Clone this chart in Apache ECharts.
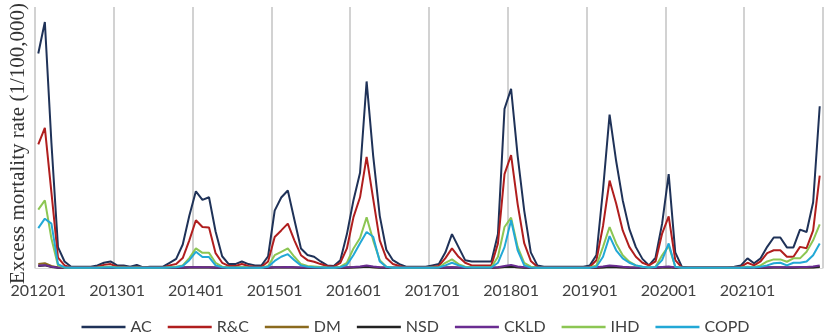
<!DOCTYPE html>
<html>
<head>
<meta charset="utf-8">
<script src="https://cdn.jsdelivr.net/npm/echarts@6/dist/echarts.min.js"></script>
<style>
html,body{margin:0;padding:0;background:#fff;}
#chart{width:831px;height:335px;}
</style>
</head>
<body>
<div id="chart"></div>
<script>
// ---- data ----
var years = ['2012','2013','2014','2015','2016','2017','2018','2019','2020','2021'];
var months = ['01','02','03','04','05','06','07','08','09','10','11','12'];
var categories = [];
years.forEach(function(y){ months.forEach(function(m){ categories.push(y + m); }); });

var seriesNames = ['AC','R&C','DM','NSD','CKLD','IHD','COPD'];

var AC = [
 8.22,9.43,4.8,0.8,0.25,0.05,0.05,0.05,0.05,0.1,0.2,0.25,
 0.1,0.1,0.05,0.12,0.02,0.05,0.05,0.05,0.2,0.35,0.9,2.0,
 2.94,2.61,2.71,1.4,0.45,0.15,0.15,0.25,0.15,0.1,0.1,0.45,
 2.2,2.7,2.97,1.85,0.75,0.5,0.43,0.25,0.1,0.08,0.3,1.3,
 2.6,3.65,7.15,4.3,2.0,0.7,0.3,0.15,0.05,0.05,0.05,0.05,
 0.1,0.15,0.6,1.3,0.8,0.3,0.25,0.25,0.25,0.25,1.3,6.1,
 6.87,4.3,2.2,0.6,0.1,0.05,0.05,0.05,0.05,0.05,0.05,0.05,
 0.1,0.5,3.0,5.88,4.1,2.6,1.5,0.8,0.35,0.1,0.4,1.7,
 3.6,0.6,0.05,0.02,0.02,0.02,0.02,0.02,0.02,0.02,0.05,0.1,
 0.37,0.18,0.37,0.81,1.17,1.17,0.79,0.79,1.47,1.38,2.52,6.2
];
var RC = [
 4.74,5.37,2.9,0.4,0.1,0.02,0.02,0.02,0.02,0.05,0.12,0.15,
 0.05,0.05,0.02,0.05,0.02,0.02,0.02,0.02,0.1,0.15,0.38,1.06,
 1.83,1.57,1.55,0.57,0.2,0.08,0.08,0.15,0.08,0.05,0.05,0.25,
 1.19,1.44,1.7,1.06,0.49,0.3,0.24,0.15,0.08,0.05,0.2,0.75,
 1.95,2.71,4.26,2.65,1.06,0.38,0.15,0.08,0.02,0.02,0.02,0.02,
 0.05,0.08,0.38,0.75,0.43,0.2,0.1,0.1,0.1,0.1,0.94,3.6,
 4.33,2.45,0.95,0.27,0.05,0.02,0.02,0.02,0.02,0.02,0.02,0.02,
 0.05,0.3,1.61,3.35,2.47,1.44,0.81,0.43,0.2,0.1,0.25,1.32,
 1.98,0.3,0.02,0.01,0.01,0.01,0.01,0.01,0.01,0.01,0.02,0.05,
 0.2,0.1,0.25,0.57,0.68,0.68,0.43,0.43,0.81,0.76,1.44,3.54
];
var DM = [
 0.15,0.18,0.08,0.02,0.01,0.01,0.01,0.01,0.01,0.01,0.02,0.02,
 0.01,0.01,0.01,0.01,0.01,0.01,0.01,0.01,0.01,0.01,0.02,0.03,
 0.04,0.03,0.03,0.02,0.01,0.01,0.01,0.01,0.01,0.01,0.01,0.01,
 0.03,0.03,0.04,0.02,0.01,0.01,0.01,0.01,0.01,0.01,0.01,0.02,
 0.03,0.04,0.05,0.03,0.02,0.01,0.01,0.01,0.01,0.01,0.01,0.01,
 0.01,0.01,0.02,0.02,0.01,0.01,0.01,0.01,0.01,0.01,0.02,0.04,
 0.05,0.03,0.02,0.01,0.01,0.01,0.01,0.01,0.01,0.01,0.01,0.01,
 0.01,0.01,0.03,0.05,0.04,0.03,0.02,0.01,0.01,0.01,0.01,0.02,
 0.03,0.01,0.01,0.01,0.01,0.01,0.01,0.01,0.01,0.01,0.01,0.01,
 0.01,0.01,0.01,0.02,0.02,0.02,0.02,0.02,0.02,0.02,0.03,0.05
];
var NSD = [
 0.08,0.1,0.04,0.01,0.01,0.01,0.01,0.01,0.01,0.01,0.01,0.01,
 0.01,0.01,0.01,0.01,0.01,0.01,0.01,0.01,0.01,0.01,0.01,0.02,
 0.03,0.02,0.02,0.01,0.01,0.01,0.01,0.01,0.01,0.01,0.01,0.01,
 0.02,0.02,0.03,0.02,0.01,0.01,0.01,0.01,0.01,0.01,0.01,0.01,
 0.02,0.03,0.05,0.03,0.01,0.01,0.01,0.01,0.01,0.01,0.01,0.01,
 0.01,0.01,0.01,0.02,0.01,0.01,0.01,0.01,0.01,0.01,0.02,0.04,
 0.05,0.03,0.01,0.01,0.01,0.01,0.01,0.01,0.01,0.01,0.01,0.01,
 0.01,0.01,0.02,0.04,0.03,0.02,0.01,0.01,0.01,0.01,0.01,0.02,
 0.03,0.01,0.01,0.01,0.01,0.01,0.01,0.01,0.01,0.01,0.01,0.01,
 0.01,0.01,0.01,0.01,0.02,0.02,0.01,0.01,0.02,0.02,0.02,0.04
];
var CKLD = [
 0.1,0.11,0.05,0.02,0.02,0.02,0.02,0.02,0.02,0.02,0.02,0.02,
 0.02,0.02,0.02,0.02,0.02,0.02,0.02,0.02,0.02,0.02,0.02,0.03,
 0.04,0.03,0.03,0.02,0.02,0.02,0.02,0.02,0.02,0.02,0.02,0.02,
 0.03,0.03,0.04,0.03,0.02,0.02,0.02,0.02,0.02,0.02,0.02,0.03,
 0.04,0.06,0.1,0.06,0.03,0.02,0.02,0.02,0.02,0.02,0.02,0.02,
 0.02,0.02,0.02,0.03,0.02,0.02,0.02,0.02,0.02,0.02,0.03,0.08,
 0.12,0.06,0.03,0.02,0.02,0.02,0.02,0.02,0.02,0.02,0.02,0.02,
 0.02,0.03,0.06,0.1,0.08,0.05,0.03,0.02,0.02,0.02,0.02,0.04,
 0.06,0.02,0.02,0.02,0.02,0.02,0.02,0.02,0.02,0.02,0.02,0.02,
 0.02,0.02,0.02,0.03,0.03,0.03,0.03,0.03,0.04,0.04,0.06,0.1
];
var IHD = [
 2.24,2.59,1.13,0.1,0.02,0.01,0.01,0.01,0.01,0.02,0.04,0.05,
 0.02,0.02,0.01,0.02,0.01,0.01,0.01,0.01,0.03,0.05,0.1,0.38,
 0.75,0.58,0.58,0.2,0.05,0.02,0.02,0.04,0.02,0.01,0.01,0.08,
 0.49,0.62,0.75,0.43,0.15,0.08,0.06,0.04,0.02,0.01,0.05,0.2,
 0.75,1.15,1.94,1.06,0.3,0.05,0.02,0.01,0.01,0.01,0.01,0.01,
 0.02,0.03,0.2,0.33,0.15,0.05,0.03,0.03,0.03,0.03,0.43,1.57,
 1.93,0.81,0.2,0.05,0.01,0.01,0.01,0.01,0.01,0.01,0.01,0.01,
 0.02,0.1,0.81,1.57,0.94,0.49,0.24,0.1,0.05,0.02,0.05,0.49,
 0.85,0.05,0.01,0.01,0.01,0.01,0.01,0.01,0.01,0.01,0.01,0.02,
 0.05,0.03,0.1,0.25,0.33,0.33,0.24,0.37,0.37,0.62,1.06,1.67
];
var COPD = [
 1.53,1.89,1.7,0.15,0.02,0.01,0.01,0.01,0.01,0.01,0.02,0.03,
 0.01,0.01,0.01,0.01,0.01,0.01,0.01,0.01,0.02,0.03,0.08,0.3,
 0.62,0.42,0.42,0.1,0.03,0.01,0.01,0.01,0.01,0.01,0.01,0.05,
 0.27,0.43,0.53,0.3,0.1,0.05,0.03,0.02,0.01,0.01,0.03,0.12,
 0.5,0.95,1.38,1.2,0.25,0.05,0.01,0.01,0.01,0.01,0.01,0.01,
 0.01,0.02,0.1,0.2,0.1,0.03,0.02,0.02,0.02,0.02,0.2,0.8,
 1.83,0.68,0.1,0.02,0.01,0.01,0.01,0.01,0.01,0.01,0.01,0.01,
 0.01,0.05,0.43,1.22,0.68,0.37,0.2,0.1,0.05,0.02,0.04,0.3,
 0.94,0.05,0.01,0.01,0.01,0.01,0.01,0.01,0.01,0.01,0.01,0.01,
 0.03,0.02,0.05,0.1,0.18,0.2,0.1,0.2,0.2,0.25,0.49,0.94
];
var seriesValues = [AC, RC, DM, NSD, CKLD, IHD, COPD];
var seriesColors = ['#1F3258','#B01E1E','#8A6A1E','#222222','#6A2C91','#8CC653','#22A8D6'];
var yAxisTitle = 'Excess mortality rate (1/100,000)';

// ---- chart ----
var chart = echarts.init(document.getElementById('chart'), null, {renderer:'canvas'});
var series = seriesNames.map(function(n, k){
  return {
    name: n, type: 'line', data: seriesValues[k],
    symbol: 'none', smooth: false,
    lineStyle: {width: 2, color: seriesColors[k]},
    itemStyle: {color: seriesColors[k]},
    animation: false
  };
});
chart.setOption({
  animation: false,
  backgroundColor: '#ffffff',
  grid: {left: 31, right: 8, top: 5, bottom: 67, containLabel: false},
  legend: {
    data: seriesNames.map(function(n){ return {name: n, icon: 'rect'}; }),
    top: 312, left: 'center',
    itemWidth: 44, itemHeight: 2.5, itemGap: 16,
    textStyle: {fontFamily: 'Lato', fontSize: 16, color: '#404040', lineHeight: 20}
  },
  xAxis: {
    type: 'category', data: categories, boundaryGap: true,
    axisLine: {show: true, lineStyle: {color: '#d9d9d9', width: 1}},
    axisTick: {show: false},
    axisLabel: {interval: 11, fontFamily: 'Lato', fontSize: 16, color: '#404040', margin: 15},
    splitLine: {show: true, interval: 11, lineStyle: {color: '#d2d2d2', width: 2}}
  },
  yAxis: {
    type: 'value', min: 0, max: 10,
    name: yAxisTitle, nameLocation: 'middle', nameRotate: 90, nameGap: 6,
    nameTextStyle: {fontFamily: 'Liberation Serif', fontSize: 21, color: '#333333', padding: [0, 12, 0, 0]},
    axisLine: {show: false}, axisTick: {show: false},
    axisLabel: {show: false}, splitLine: {show: false}
  },
  series: series
});
</script>
</body>
</html>
